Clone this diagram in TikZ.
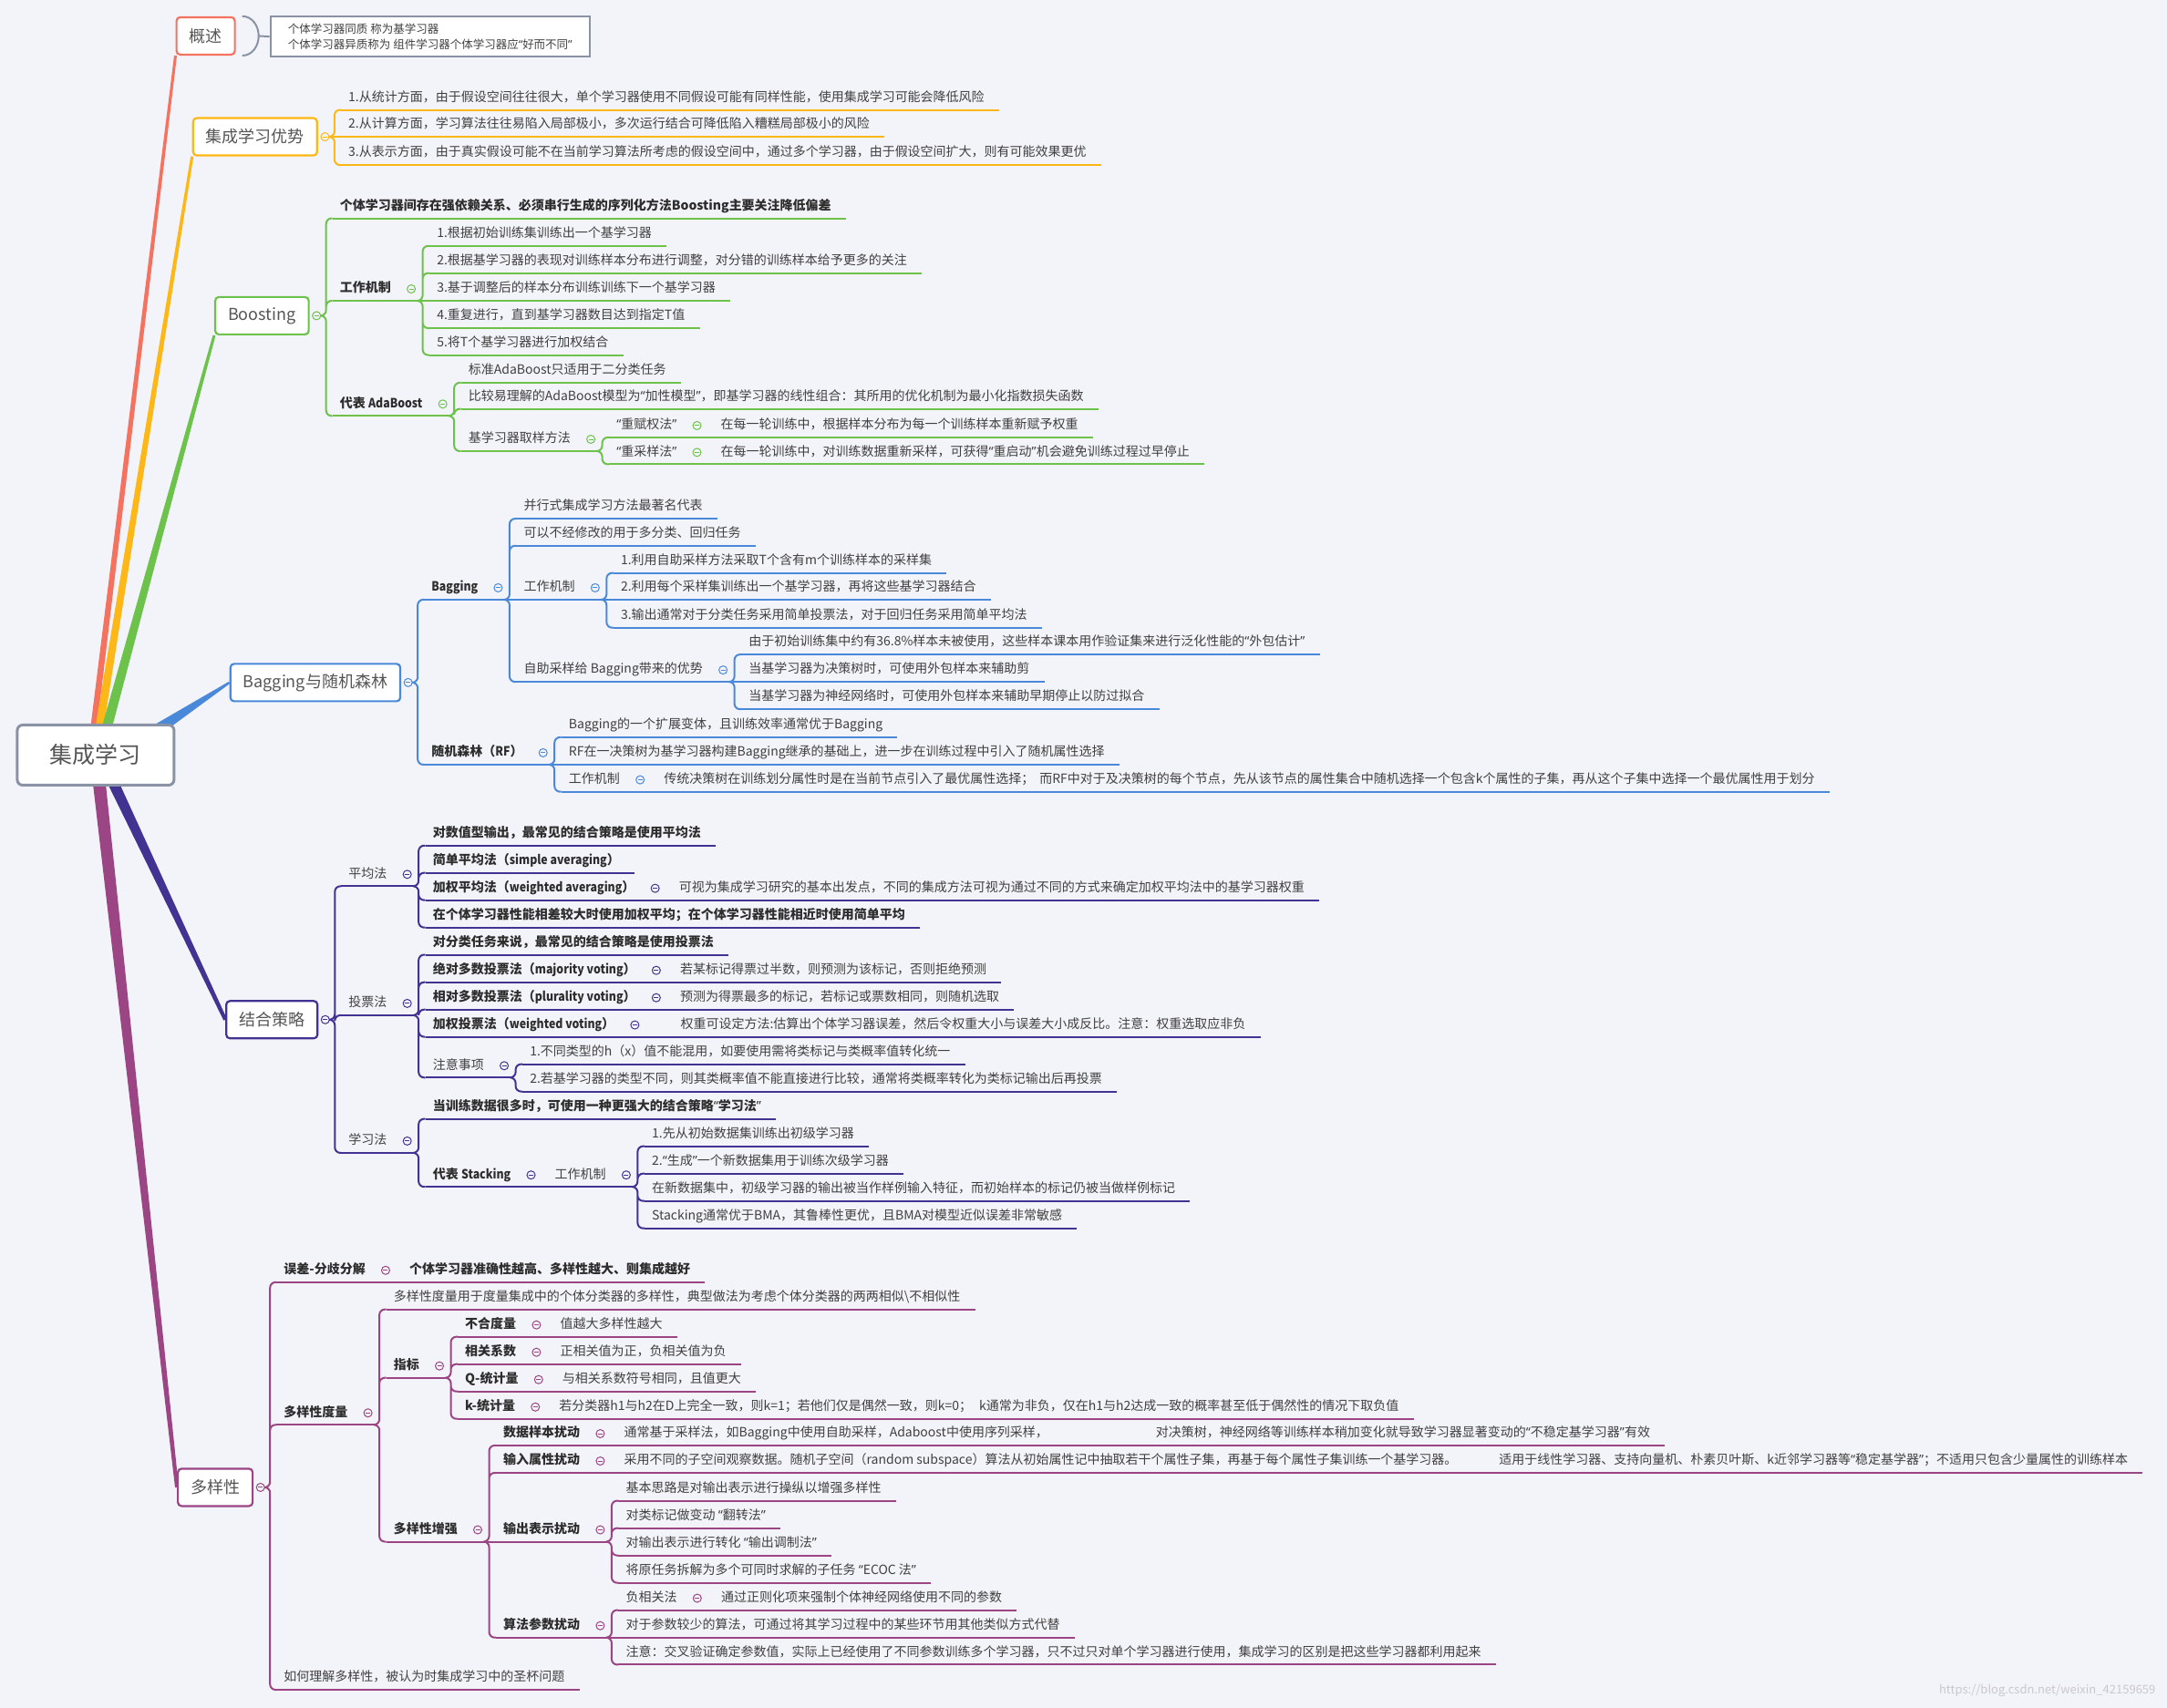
\documentclass[tikz,border=0pt]{standalone}
\usepackage{fontspec}
\setmainfont{Noto Sans CJK SC}
\newfontfamily\qfont{Noto Sans}
\usetikzlibrary{calc}
\usetikzlibrary{positioning}
\usetikzlibrary{backgrounds}

\definecolor{bgcol}{RGB}{243,244,249}
\definecolor{rootline}{RGB}{138,147,166}
\definecolor{redbr}{RGB}{244,114,96}
\definecolor{orangebr}{RGB}{253,183,22}
\definecolor{greenbr}{RGB}{108,194,74}
\definecolor{bluebr}{RGB}{74,137,218}
\definecolor{indigobr}{RGB}{66,50,145}
\definecolor{plumbr}{RGB}{155,69,133}
\definecolor{txt}{RGB}{64,64,64}
\definecolor{btxt}{RGB}{45,45,45}
\definecolor{toptxt}{RGB}{85,85,85}
\definecolor{wmgray}{RGB}{200,200,206}
\colorlet{bc}{greenbr}

% narrow quotes and narrower bold latin
\newcommand\qo{{\qfont “}}
\newcommand\qc{{\qfont ”}}
\newcommand\lat[1]{{\addfontfeature{FakeStretch=0.88}#1}}

% tapered main branch: colour, start, end, half width at start, half width at end
\newcommand\branchfill[5]{\fill[#1] ($(#2)!#4!90:(#3)$) -- ($(#3)!#5!-90:(#2)$) -- ($(#3)!#5!90:(#2)$) -- ($(#2)!#4!-90:(#3)$) -- cycle;}

\tikzset{
  topic/.style={draw=bc, fill=white, rounded corners=4pt, line width=2.2pt, minimum height=41pt, inner xsep=14pt, anchor=west, font=\fontsize{18}{20}\selectfont, text=toptxt},
  fold/.style={circle, draw=bc, fill=bgcol, line width=1pt, minimum size=9pt, inner sep=0pt,
    path picture={\draw[bc, line width=0.9pt] ([xshift=2pt]path picture bounding box.west) -- ([xshift=-2pt]path picture bounding box.east);}},
  item/.style={anchor=south west, inner xsep=8pt, inner ysep=5pt, text height=11pt, text depth=4pt, font=\fontsize{14}{16}\selectfont, text=txt,
    execute at end node={\hspace{8pt}},
    append after command={(\tikzlastnode.south west) edge[bc, line width=2pt] (\tikzlastnode.south east)}},
  bitem/.style={item, font=\fontsize{14}{16}\selectfont\bfseries, text=btxt},
  hasc/.style={execute at end node={\hspace{15pt}},
    append after command={node[fold] at ([xshift=-9pt,yshift=13pt]\tikzlastnode.south east) {}}},
  fork/.style={bc, line width=2pt, rounded corners=6pt, to path={-- ([xshift=#1]\tikztostart) |- (\tikztotarget)}},
  fork/.default=3.5pt,
  link/.style={bc, line width=2pt},
}

\begin{document}
\begin{tikzpicture}[x=1.516pt, y=-1.516pt]
\useasboundingbox (0,0) rectangle (1568,1236);

\node[draw=rootline, fill=white, line width=3pt, rounded corners=6pt, minimum width=172pt, minimum height=66pt, anchor=west, font=\fontsize{25}{28}\selectfont, text=toptxt] (root) at (11.5,546.5) {集成学习};

% 概述
\begin{scope}
\colorlet{bc}{redbr}
\node[topic] (gaishu) at (127,26) {概述};
\node[draw=rootline, fill=white, line width=2.5pt, anchor=west, minimum width=350pt, minimum height=44pt, align=left, inner xsep=10pt, font=\fontsize{12.5}{17}\selectfont, text=txt] (gsnote) at (195,26.5) {个体学习器同质 称为基学习器\\个体学习器异质称为 组件学习器个体学习器应\qo 好而不同\qc};
\draw[rootline, line width=2pt] ([xshift=7pt]gaishu.north east) to[out=0,in=90] ([xshift=25pt]gaishu.east) to[out=-90,in=0] ([xshift=7pt]gaishu.south east);
\draw[rootline, line width=2pt] ([xshift=25pt]gaishu.east) -- (gsnote.west);
\end{scope}

% 集成学习优势
\begin{scope}
\colorlet{bc}{orangebr}
\node[topic] (youshi) at (139,99) {集成学习优势};
\node[fold] (fYoushi) at ([xshift=7.5pt]youshi.east) {};
\node[item, xshift=12.5pt] (ys1) at (fYoushi.east |- 0,79.5) {1.从统计方面，由于假设空间往往很大，单个学习器使用不同假设可能有同样性能，使用集成学习可能会降低风险};
\node[item, xshift=12.5pt] (ys2) at (fYoushi.east |- 0,99) {2.从计算方面，学习算法往往易陷入局部极小，多次运行结合可降低陷入糟糕局部极小的风险};
\node[item, xshift=12.5pt] (ys3) at (fYoushi.east |- 0,119.5) {3.从表示方面，由于真实假设可能不在当前学习算法所考虑的假设空间中，通过多个学习器，由于假设空间扩大，则有可能效果更优};
\draw[fork=5.5pt] (fYoushi.east) to (ys1.south west) (fYoushi.east) to (ys3.south west);
\draw[link] (fYoushi.east) -- (ys2.south west);
\end{scope}

% Boosting
\begin{scope}
\colorlet{bc}{greenbr}
\node[topic] (boost) at (155,228.5) {Boosting};
\node[fold] (fBoost) at ([xshift=7.5pt]boost.east) {};
\node[bitem, xshift=12.5pt] (bst1) at (fBoost.east |- 0,158) {个体学习器间存在强依赖关系、必须串行生成的序列化方法Boosting主要关注降低偏差};
\node[bitem, hasc, xshift=12.5pt] (bstwork) at (fBoost.east |- 0,217.7) {工作机制};
\node[bitem, hasc, xshift=12.5pt] (bstada) at (fBoost.east |- 0,301) {代表 \lat{AdaBoost}};
\draw[fork=5.5pt] (fBoost.east) to (bst1.south west) (fBoost.east) to (bstwork.south west) (fBoost.east) to (bstada.south west);

\node[item, xshift=11pt] (bw1) at (bstwork.south east |- 0,178) {1.根据初始训练集训练出一个基学习器};
\node[item, xshift=11pt] (bw2) at (bstwork.south east |- 0,197.7) {2.根据基学习器的表现对训练样本分布进行调整，对分错的训练样本给予更多的关注};
\node[item, xshift=11pt] (bw3) at (bstwork.south east |- 0,217.7) {3.基于调整后的样本分布训练训练下一个基学习器};
\node[item, xshift=11pt] (bw4) at (bstwork.south east |- 0,237.5) {4.重复进行，直到基学习器数目达到指定T值};
\node[item, xshift=11pt] (bw5) at (bstwork.south east |- 0,257) {5.将T个基学习器进行加权结合};
\draw[fork] (bstwork.south east) to (bw1.south west) (bstwork.south east) to (bw2.south west) (bstwork.south east) to (bw4.south west) (bstwork.south east) to (bw5.south west);
\draw[link] (bstwork.south east) -- (bw3.south west);

\node[item, xshift=11pt] (bad1) at (bstada.south east |- 0,277) {标准AdaBoost只适用于二分类任务};
\node[item, xshift=11pt] (bad2) at (bstada.south east |- 0,296) {比较易理解的AdaBoost模型为\qo 加性模型\qc，即基学习器的线性组合：其所用的优化机制为最小化指数损失函数};
\node[item, hasc, xshift=11pt] (bad3) at (bstada.south east |- 0,326.5) {基学习器取样方法};
\draw[fork] (bstada.south east) to (bad1.south west) (bstada.south east) to (bad2.south west) (bstada.south east) to (bad3.south west);

\node[item, hasc, xshift=11pt] (re1) at (bad3.south east |- 0,316.6) {\qo 重赋权法\qc};
\node[item, xshift=9pt] (re1t) at (re1.south east) {在每一轮训练中，根据样本分布为每一个训练样本重新赋予权重};
\node[item, hasc, xshift=11pt] (re2) at (bad3.south east |- 0,336) {\qo 重采样法\qc};
\node[item, xshift=9pt] (re2t) at (re2.south east) {在每一轮训练中，对训练数据重新采样，可获得\qo 重启动\qc 机会避免训练过程过早停止};
\draw[fork] (bad3.south east) to (re1.south west) (bad3.south east) to (re2.south west);
\draw[link] (re1.south east) -- (re1t.south west) (re2.south east) -- (re2t.south west);
\end{scope}

% Bagging与随机森林
\begin{scope}
\colorlet{bc}{bluebr}
\node[topic] (bag) at (166,494) {Bagging与随机森林};
\node[fold] (fBag) at ([xshift=7.5pt]bag.east) {};
\node[bitem, hasc, xshift=12.5pt] (bg) at (fBag.east |- 0,434) {\lat{Bagging}};
\node[bitem, hasc, xshift=12.5pt] (rf) at (fBag.east |- 0,553.4) {随机森林（\lat{RF}）};
\draw[fork=5.5pt] (fBag.east) to (bg.south west) (fBag.east) to (rf.south west);

\node[item, xshift=11pt] (bg1) at (bg.south east |- 0,375.4) {并行式集成学习方法最著名代表};
\node[item, xshift=11pt] (bg2) at (bg.south east |- 0,395) {可以不经修改的用于多分类、回归任务};
\node[item, hasc, xshift=11pt] (bgwork) at (bg.south east |- 0,434) {工作机制};
\node[item, hasc, xshift=11pt] (bgadv) at (bg.south east |- 0,493.5) {自助采样给 Bagging带来的优势};
\draw[fork] (bg.south east) to (bg1.south west) (bg.south east) to (bg2.south west) (bg.south east) to (bgadv.south west);
\draw[link] (bg.south east) -- (bgwork.south west);

\node[item, xshift=11pt] (gw1) at (bgwork.south east |- 0,414.7) {1.利用自助采样方法采取T个含有m个训练样本的采样集};
\node[item, xshift=11pt] (gw2) at (bgwork.south east |- 0,434) {2.利用每个采样集训练出一个基学习器，再将这些基学习器结合};
\node[item, xshift=11pt] (gw3) at (bgwork.south east |- 0,454.3) {3.输出通常对于分类任务采用简单投票法，对于回归任务采用简单平均法};
\draw[fork] (bgwork.south east) to (gw1.south west) (bgwork.south east) to (gw3.south west);
\draw[link] (bgwork.south east) -- (gw2.south west);

\node[item, xshift=11pt] (ga1) at (bgadv.south east |- 0,473.7) {由于初始训练集中约有36.8\%样本未被使用，这些样本课本用作验证集来进行泛化性能的\qo 外包估计\qc};
\node[item, xshift=11pt] (ga2) at (bgadv.south east |- 0,493.5) {当基学习器为决策树时，可使用外包样本来辅助剪};
\node[item, xshift=11pt] (ga3) at (bgadv.south east |- 0,513.3) {当基学习器为神经网络时，可使用外包样本来辅助早期停止以防过拟合};
\draw[fork] (bgadv.south east) to (ga1.south west) (bgadv.south east) to (ga3.south west);
\draw[link] (bgadv.south east) -- (ga2.south west);

\node[item, xshift=11pt] (rf1) at (rf.south east |- 0,533.6) {Bagging的一个扩展变体，且训练效率通常优于Bagging};
\node[item, xshift=11pt] (rf2) at (rf.south east |- 0,553.4) {RF在一决策树为基学习器构建Bagging继承的基础上，进一步在训练过程中引入了随机属性选择};
\node[item, hasc, xshift=11pt] (rfwork) at (rf.south east |- 0,573) {工作机制};
\node[item, xshift=9pt] (rfworkt) at (rfwork.south east) {传统决策树在训练划分属性时是在当前节点引入了最优属性选择；\hspace{6pt}而RF中对于及决策树的每个节点，先从该节点的属性集合中随机选择一个包含k个属性的子集，再从这个子集中选择一个最优属性用于划分};
\draw[fork] (rf.south east) to (rf1.south west) (rf.south east) to (rfwork.south west);
\draw[link] (rf.south east) -- (rf2.south west) (rfwork.south east) -- (rfworkt.south west);
\end{scope}

% 结合策略
\begin{scope}
\colorlet{bc}{indigobr}
\node[topic] (jiehe) at (163,738) {结合策略};
\node[fold] (fJiehe) at ([xshift=7.5pt]jiehe.east) {};
\node[item, hasc, xshift=12.5pt] (avg) at (fJiehe.east |- 0,641.4) {平均法};
\node[item, hasc, xshift=12.5pt] (vote) at (fJiehe.east |- 0,734.8) {投票法};
\node[item, hasc, xshift=12.5pt] (learn) at (fJiehe.east |- 0,834.4) {学习法};
\draw[fork=5.5pt] (fJiehe.east) to (avg.south west) (fJiehe.east) to (vote.south west) (fJiehe.east) to (learn.south west);

\node[bitem, xshift=11pt] (av1) at (avg.south east |- 0,612) {对数值型输出，最常见的结合策略是使用平均法};
\node[bitem, xshift=11pt] (av2) at (avg.south east |- 0,631.7) {简单平均法（\lat{simple averaging}）};
\node[bitem, hasc, xshift=11pt] (av3) at (avg.south east |- 0,651.5) {加权平均法（\lat{weighted averaging}）};
\node[item, xshift=9pt] (av3t) at (av3.south east) {可视为集成学习研究的基本出发点，不同的集成方法可视为通过不同的方式来确定加权平均法中的基学习器权重};
\node[bitem, xshift=11pt] (av4) at (avg.south east |- 0,671.3) {在个体学习器性能相差较大时使用加权平均；在个体学习器性能相近时使用简单平均};
\draw[fork] (avg.south east) to (av1.south west) (avg.south east) to (av2.south west) (avg.south east) to (av3.south west) (avg.south east) to (av4.south west);
\draw[link] (av3.south east) -- (av3t.south west);

\node[bitem, xshift=11pt] (vt1) at (vote.south east |- 0,691) {对分类任务来说，最常见的结合策略是使用投票法};
\node[bitem, hasc, xshift=11pt] (vt2) at (vote.south east |- 0,710.9) {绝对多数投票法（\lat{majority voting}）};
\node[item, xshift=9pt] (vt2t) at (vt2.south east) {若某标记得票过半数，则预测为该标记，否则拒绝预测};
\node[bitem, hasc, xshift=11pt] (vt3) at (vote.south east |- 0,730.7) {相对多数投票法（\lat{plurality voting}）};
\node[item, xshift=9pt] (vt3t) at (vt3.south east) {预测为得票最多的标记，若标记或票数相同，则随机选取};
\node[bitem, hasc, xshift=11pt] (vt4) at (vote.south east |- 0,750.4) {加权投票法（\lat{weighted voting}）};
\node[item, xshift=33pt] (vt4t) at (vt4.south east) {权重可设定方法:估算出个体学习器误差，然后令权重大小与误差大小成反比。注意：权重选取应非负};
\node[item, hasc, xshift=11pt] (vtnote) at (vote.south east |- 0,779.9) {注意事项};
\draw[fork] (vote.south east) to (vt1.south west) (vote.south east) to (vt2.south west) (vote.south east) to (vt3.south west) (vote.south east) to (vt4.south west) (vote.south east) to (vtnote.south west);
\draw[link] (vt2.south east) -- (vt2t.south west) (vt3.south east) -- (vt3t.south west) (vt4.south east) -- (vt4t.south west);

\node[item, xshift=11pt] (vn1) at (vtnote.south east |- 0,770.2) {1.不同类型的h（x）值不能混用，如要使用需将类标记与类概率值转化统一};
\node[item, xshift=11pt] (vn2) at (vtnote.south east |- 0,790) {2.若基学习器的类型不同，则其类概率值不能直接进行比较，通常将类概率转化为类标记输出后再投票};
\draw[fork] (vtnote.south east) to (vn1.south west) (vtnote.south east) to (vn2.south west);

\node[bitem, xshift=11pt] (ln1) at (learn.south east |- 0,809.8) {当训练数据很多时，可使用一种更强大的结合策略\qo 学习法\qc};
\node[bitem, hasc, xshift=11pt] (ln2) at (learn.south east |- 0,859) {代表 \lat{Stacking}};
\node[item, hasc, xshift=9pt] (lnwork) at (ln2.south east) {工作机制};
\draw[fork] (learn.south east) to (ln1.south west) (learn.south east) to (ln2.south west);
\draw[link] (ln2.south east) -- (lnwork.south west);

\node[item, xshift=11pt] (sk1) at (lnwork.south east |- 0,829.6) {1.先从初始数据集训练出初级学习器};
\node[item, xshift=11pt] (sk2) at (lnwork.south east |- 0,849.4) {2.\qo 生成\qc 一个新数据集用于训练次级学习器};
\node[item, xshift=11pt] (sk3) at (lnwork.south east |- 0,869.2) {在新数据集中，初级学习器的输出被当作样例输入特征，而初始样本的标记仍被当做样例标记};
\node[item, xshift=11pt] (sk4) at (lnwork.south east |- 0,889) {Stacking通常优于BMA，其鲁棒性更优，且BMA对模型近似误差非常敏感};
\draw[fork] (lnwork.south east) to (sk1.south west) (lnwork.south east) to (sk2.south west) (lnwork.south east) to (sk3.south west) (lnwork.south east) to (sk4.south west);
\end{scope}

% 多样性
\begin{scope}
\colorlet{bc}{plumbr}
\node[topic] (duoyang) at (128,1076.5) {多样性};
\node[fold] (fDuo) at ([xshift=7.5pt]duoyang.east) {};
\node[bitem, hasc, xshift=12.5pt] (err) at (fDuo.east |- 0,928) {误差-分歧分解};
\node[bitem, xshift=9pt] (errt) at (err.south east) {个体学习器准确性越高、多样性越大、则集成越好};
\node[bitem, hasc, xshift=12.5pt] (meas) at (fDuo.east |- 0,1031.2) {多样性度量};
\node[item, xshift=12.5pt] (why) at (fDuo.east |- 0,1223) {如何理解多样性，被认为时集成学习中的圣杯问题};
\draw[fork=5.5pt] (fDuo.east) to (err.south west) (fDuo.east) to (meas.south west) (fDuo.east) to (why.south west);
\draw[link] (err.south east) -- (errt.south west);

\node[item, xshift=11pt] (ms1) at (meas.south east |- 0,947.7) {多样性度量用于度量集成中的个体分类器的多样性，典型做法为考虑个体分类器的两两相似\textbackslash 不相似性};
\node[bitem, hasc, xshift=11pt] (idx) at (meas.south east |- 0,997.2) {指标};
\node[bitem, hasc, xshift=11pt] (enh) at (meas.south east |- 0,1115.8) {多样性增强};
\draw[fork] (meas.south east) to (ms1.south west) (meas.south east) to (idx.south west) (meas.south east) to (enh.south west);

\node[bitem, hasc, xshift=11pt] (ix1) at (idx.south east |- 0,967.5) {不合度量};
\node[item, xshift=9pt] (ix1t) at (ix1.south east) {值越大多样性越大};
\node[bitem, hasc, xshift=11pt] (ix2) at (idx.south east |- 0,987.3) {相关系数};
\node[item, xshift=9pt] (ix2t) at (ix2.south east) {正相关值为正，负相关值为负};
\node[bitem, hasc, xshift=11pt] (ix3) at (idx.south east |- 0,1007.1) {Q-统计量};
\node[item, xshift=9pt] (ix3t) at (ix3.south east) {与相关系数符号相同，且值更大};
\node[bitem, hasc, xshift=11pt] (ix4) at (idx.south east |- 0,1026.9) {k-统计量};
\node[item, xshift=9pt] (ix4t) at (ix4.south east) {若分类器h1与h2在D上完全一致，则k=1；若他们仅是偶然一致，则k=0；\hspace{8pt}k通常为非负，仅在h1与h2达成一致的概率甚至低于偶然性的情况下取负值};
\draw[fork] (idx.south east) to (ix1.south west) (idx.south east) to (ix2.south west) (idx.south east) to (ix3.south west) (idx.south east) to (ix4.south west);
\draw[link] (ix1.south east) -- (ix1t.south west) (ix2.south east) -- (ix2t.south west) (ix3.south east) -- (ix3t.south west) (ix4.south east) -- (ix4t.south west);

\node[bitem, hasc, xshift=11pt] (en1) at (enh.south east |- 0,1046.2) {数据样本扰动};
\node[item, xshift=9pt] (en1t) at (en1.south east) {通常基于采样法，如Bagging中使用自助采样，Adaboost中使用序列采样，\hspace{118pt}对决策树，神经网络等训练样本稍加变化就导致学习器显著变动的\qo 不稳定基学习器\qc 有效};
\node[bitem, hasc, xshift=11pt] (en2) at (enh.south east |- 0,1066) {输入属性扰动};
\node[item, xshift=9pt] (en2t) at (en2.south east) {采用不同的子空间观察数据。随机子空间（random subspace）算法从初始属性记中抽取若干个属性子集，再基于每个属性子集训练一个基学习器。\hspace{46pt}适用于线性学习器、支持向量机、朴素贝叶斯、k近邻学习器等\qo 稳定基学器\qc；不适用只包含少量属性的训练样本};
\node[bitem, hasc, xshift=11pt] (en3) at (enh.south east |- 0,1115.8) {输出表示扰动};
\node[bitem, hasc, xshift=11pt] (en4) at (enh.south east |- 0,1185.2) {算法参数扰动};
\draw[fork] (enh.south east) to (en1.south west) (enh.south east) to (en2.south west) (enh.south east) to (en4.south west);
\draw[link] (enh.south east) -- (en3.south west) (en1.south east) -- (en1t.south west) (en2.south east) -- (en2t.south west);

\node[item, xshift=11pt] (eo1) at (en3.south east |- 0,1086.2) {基本思路是对输出表示进行操纵以增强多样性};
\node[item, xshift=11pt] (eo2) at (en3.south east |- 0,1106) {对类标记做变动 \qo 翻转法\qc};
\node[item, xshift=11pt] (eo3) at (en3.south east |- 0,1125.8) {对输出表示进行转化 \qo 输出调制法\qc};
\node[item, xshift=11pt] (eo4) at (en3.south east |- 0,1145.6) {将原任务拆解为多个可同时求解的子任务 \qo ECOC 法\qc};
\draw[fork] (en3.south east) to (eo1.south west) (en3.south east) to (eo2.south west) (en3.south east) to (eo3.south west) (en3.south east) to (eo4.south west);

\node[item, hasc, xshift=11pt] (ep1) at (en4.south east |- 0,1165.3) {负相关法};
\node[item, xshift=9pt] (ep1t) at (ep1.south east) {通过正则化项来强制个体神经网络使用不同的参数};
\node[item, xshift=11pt] (ep2) at (en4.south east |- 0,1185.2) {对于参数较少的算法，可通过将其学习过程中的某些环节用其他类似方式代替};
\node[item, xshift=11pt] (ep3) at (en4.south east |- 0,1204.8) {注意：交叉验证确定参数值，实际上已经使用了不同参数训练多个学习器，只不过只对单个学习器进行使用，集成学习的区别是把这些学习器都利用起来};
\draw[fork] (en4.south east) to (ep1.south west) (en4.south east) to (ep3.south west);
\draw[link] (en4.south east) -- (ep2.south west) (ep1.south east) -- (ep1t.south west);
\end{scope}

\node[anchor=base east, font=\fontsize{13}{15}\selectfont, text=wmgray] (wmark) at (1562,1226) {https://blog.csdn.net/weixin\_42159659};

% main branches behind the boxes
\begin{scope}[on background layer]
\fill[bgcol] (0,0) rectangle (1568,1236);
\coordinate (rA) at ($(root.north)+(-2.7pt,-9pt)$);
\coordinate (oA) at ($(root.north)+(3.4pt,-9pt)$);
\coordinate (gA) at ($(root.north)+(11pt,-9pt)$);
\coordinate (bA) at ($(root.north)+(64pt,-9pt)$);
\coordinate (iA) at ($(root.south)+(17pt,9pt)$);
\coordinate (pA) at ($(root.south)+(3.4pt,9pt)$);
\branchfill{redbr}{rA}{gaishu.south west}{3.5pt}{1.5pt}
\branchfill{orangebr}{oA}{youshi.south west}{4.5pt}{1.5pt}
\branchfill{greenbr}{gA}{boost.south west}{5.5pt}{1.5pt}
\branchfill{bluebr}{bA}{bag.west}{6.5pt}{1.2pt}
\branchfill{indigobr}{iA}{jiehe.west}{6pt}{2pt}
\branchfill{plumbr}{pA}{duoyang.west}{7pt}{2pt}
\end{scope}
\end{tikzpicture}
\end{document}
